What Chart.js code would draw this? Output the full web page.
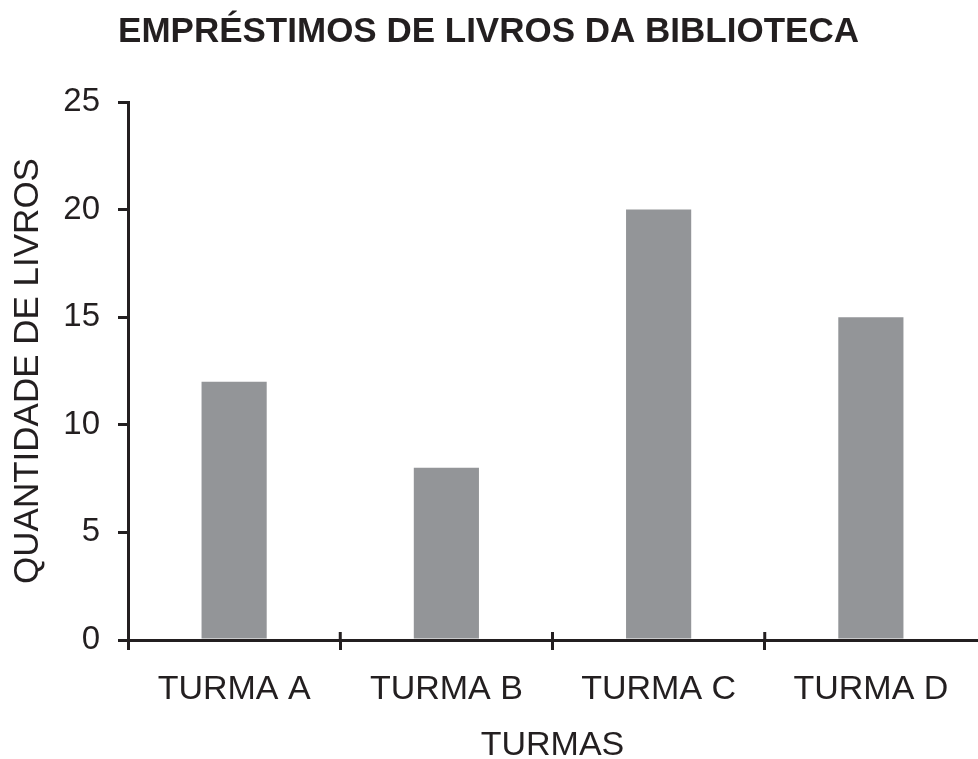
<!DOCTYPE html>
<html>
<head>
<meta charset="utf-8">
<script src="https://cdn.jsdelivr.net/npm/chart.js@4/dist/chart.umd.min.js"></script>
<style>
    html, body { margin: 0; padding: 0; background: #fff; }
    #wrap { width: 978px; height: 759px; position: relative; }
</style>
</head>
<body>
<div id="wrap"><canvas id="myChart"></canvas></div>
<script>
const turmas = ["TURMA A", "TURMA B", "TURMA C", "TURMA D"];
const emprestimos = [12, 8, 20, 15];
const yTicks = [0, 5, 10, 15, 20, 25];

const ink = "#231f20";
const fontFamily = "'Liberation Sans', Arial, Helvetica, sans-serif";

// x tick marks that cross the axis line (Chart.js only draws them below)
const crossTicks = {
    id: "crossTicks",
    afterDraw(chart) {
        const x = chart.scales.x;
        const ctx = chart.ctx;
        ctx.save();
        ctx.strokeStyle = ink;
        ctx.lineWidth = 3;
        for (let i = 1; i < turmas.length; i++) {
            const px = x.getPixelForValue(i - 0.5);
            ctx.beginPath();
            ctx.moveTo(px, x.top - 8);
            ctx.lineTo(px, x.top);
            ctx.stroke();
        }
        ctx.restore();
    },
};

const ctx = document.getElementById("myChart").getContext("2d");
new Chart(ctx, {
    type: "bar",
    data: {
        labels: turmas,
        datasets: [
            {
                data: emprestimos,
                backgroundColor: "#939598",
                barPercentage: 0.307,
                categoryPercentage: 1,
            },
        ],
    },
    plugins: [crossTicks],
    options: {
        responsive: true,
        maintainAspectRatio: false,
        animation: false,
        layout: { padding: { left: 0, right: 1, top: 0, bottom: 0 } },
        plugins: {
            legend: { display: false },
            tooltip: { enabled: false },
            title: {
                display: true,
                text: "EMPRÉSTIMOS DE LIVROS DA BIBLIOTECA",
                color: ink,
                font: { family: fontFamily, size: 35, weight: "bold", lineHeight: 1.2 },
                padding: { top: 11, bottom: 49 },
            },
        },
        scales: {
            x: {
                offset: true,
                grid: {
                    display: true,
                    offset: true,
                    drawOnChartArea: false,
                    tickLength: 10,
                    lineWidth: 3,
                    color: (c) => (c.tick ? ink : "rgba(0,0,0,0)"),
                },
                border: { display: true, color: ink, width: 3 },
                ticks: {
                    color: ink,
                    padding: 19,
                    font: { family: fontFamily, size: 34 },
                    maxRotation: 0,
                },
                title: {
                    display: true,
                    text: "TURMAS",
                    color: ink,
                    font: { family: fontFamily, size: 34, lineHeight: 0.8 },
                    padding: { top: 0, bottom: 0 },
                },
                afterFit: (s) => { s.height = 119; },
            },
            y: {
                min: 0,
                max: 25,
                afterBuildTicks: (s) => { s.ticks = yTicks.map((v) => ({ value: v })); },
                grid: {
                    display: true,
                    drawOnChartArea: false,
                    tickLength: 10,
                    lineWidth: 3,
                    color: ink,
                },
                border: { display: true, color: ink, width: 3 },
                ticks: {
                    color: ink,
                    padding: 18,
                    font: { family: fontFamily, size: 33 },
                },
                title: {
                    display: true,
                    text: "QUANTIDADE DE LIVROS",
                    color: ink,
                    font: { family: fontFamily, size: 35, lineHeight: 1.2 },
                    padding: { top: 7, bottom: 0 },
                },
                afterFit: (s) => { s.width = 128; },
            },
        },
    },
});
</script>
</body>
</html>
